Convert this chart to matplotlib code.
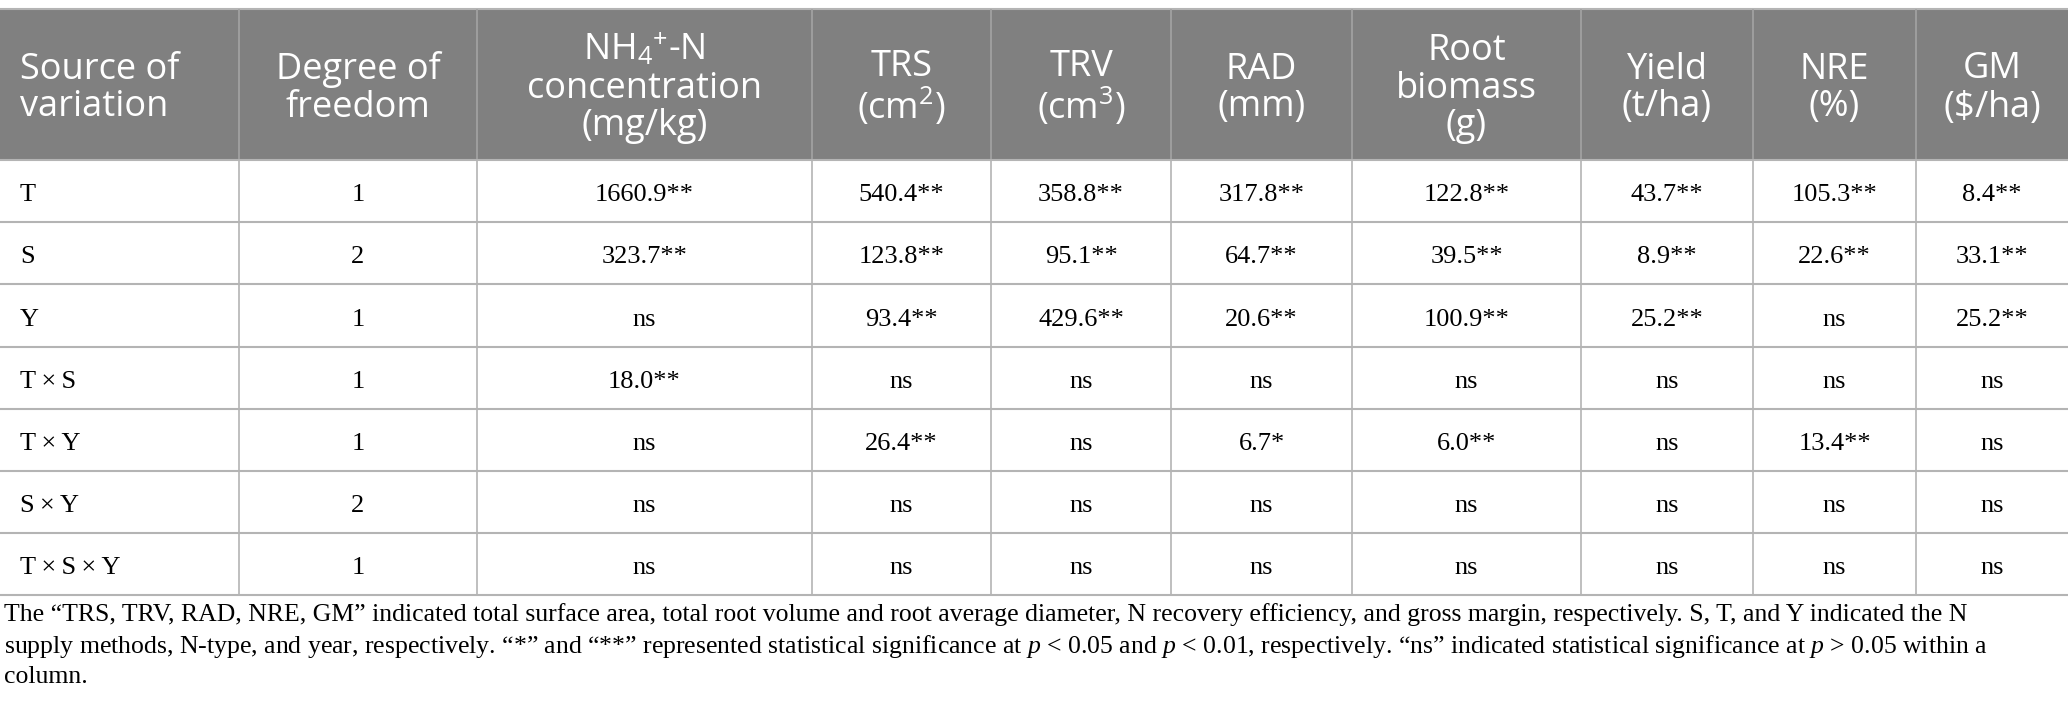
import matplotlib
matplotlib.use("Agg")
import matplotlib.pyplot as plt
from matplotlib.patches import Rectangle

plt.rcParams['mathtext.fontset'] = 'custom'
plt.rcParams['mathtext.rm'] = 'Liberation Serif'
plt.rcParams['mathtext.it'] = 'Liberation Serif:italic'
plt.rcParams['mathtext.sf'] = 'Open Sans'

# table content
headers = ["Source of\nvariation", "Degree of\nfreedom",
           "NH$_\\mathsf{4}{}^\\mathsf{+}$-N\nconcentration\n(mg/kg)",
           "TRS\n(cm$\\mathsf{^2}$)", "TRV\n(cm$\\mathsf{^3}$)", "RAD\n(mm)",
           "Root\nbiomass\n(g)", "Yield\n(t/ha)", "NRE\n(%)", "GM\n($\\mathsf{\\$}$/ha)"]
sources = ["T", "S", "Y", "T\u2009×\u2009S", "T\u2009×\u2009Y", "S\u2009×\u2009Y",
           "T\u2009×\u2009S\u2009×\u2009Y"]
dof = ["1", "2", "1", "1", "1", "2", "1"]
nh4 = ["1660.9**", "323.7**", "ns", "18.0**", "ns", "ns", "ns"]
trs = ["540.4**", "123.8**", "93.4**", "ns", "26.4**", "ns", "ns"]
trv = ["358.8**", "95.1**", "429.6**", "ns", "ns", "ns", "ns"]
rad = ["317.8**", "64.7**", "20.6**", "ns", "6.7*", "ns", "ns"]
biomass = ["122.8**", "39.5**", "100.9**", "ns", "6.0**", "ns", "ns"]
yld = ["43.7**", "8.9**", "25.2**", "ns", "ns", "ns", "ns"]
nre = ["105.3**", "22.6**", "ns", "ns", "13.4**", "ns", "ns"]
gm = ["8.4**", "33.1**", "25.2**", "ns", "ns", "ns", "ns"]

footnote = [
    "The “TRS, TRV, RAD, NRE, GM” indicated total surface area, total root volume and root average diameter, "
    "N recovery efficiency, and gross margin, respectively. S, T, and Y indicated the N",
    "supply methods, N-type, and year, respectively. “*” and “**” represented statistical significance at "
    "$p$ < 0.05 and $p$ < 0.01, respectively. “ns” indicated statistical significance at $p$ > 0.05 within a",
    "column.",
]

columns = [sources, dof, nh4, trs, trv, rad, biomass, yld, nre, gm]

W, H = 2068, 725
col_edges = [0, 239, 477, 812, 991, 1171, 1352, 1581, 1753, 1916, 2068]
top, head_bot, row_h = 9, 160, 62.2

fig = plt.figure(figsize=(W / 100, H / 100), dpi=100)
ax = fig.add_axes([0, 0, 1, 1])
ax.set_xlim(0, W)
ax.set_ylim(H, 0)
ax.axis('off')

# header block
ax.add_patch(Rectangle((0, top), W, head_bot - top, facecolor='#808080', edgecolor='none'))
ax.hlines(top, 0, W, color='#b4b4b4', lw=1.5)
for x in col_edges[1:-1]:
    ax.vlines(x, top, head_bot, color='#a4a4a4', lw=1.2)
    ax.vlines(x, head_bot, head_bot + row_h * len(sources), color='#b4b4b4', lw=1.2)
for i in range(len(sources) + 1):
    ax.hlines(head_bot + i * row_h, 0, W, color='#b4b4b4', lw=1.5)

hy = (top + head_bot) / 2 + 4
for j, h in enumerate(headers):
    if j == 0:
        ax.text(20, hy, h, ha='left', va='center', color='white', fontsize=26,
                family='Open Sans', linespacing=1.05)
    else:
        xc = (col_edges[j] + col_edges[j + 1]) / 2
        ax.text(xc, hy, h, ha='center', va='center', color='white', fontsize=26,
                family='Open Sans', linespacing=1.05, multialignment='center')

# body cells
for j, col in enumerate(columns):
    for i, v in enumerate(col):
        y = head_bot + (i + 0.5) * row_h + 4
        if j == 0:
            ax.text(20, y, v, ha='left', va='center', fontsize=19, family='Liberation Serif')
        else:
            xc = (col_edges[j] + col_edges[j + 1]) / 2
            ax.text(xc, y, v, ha='center', va='center', fontsize=19, family='Liberation Serif')

for k, line in enumerate(footnote):
    ax.text(4, 615 + k * 31, line, ha='left', va='center', fontsize=18.5, family='Liberation Serif')

fig.savefig("out.png", dpi=100)
